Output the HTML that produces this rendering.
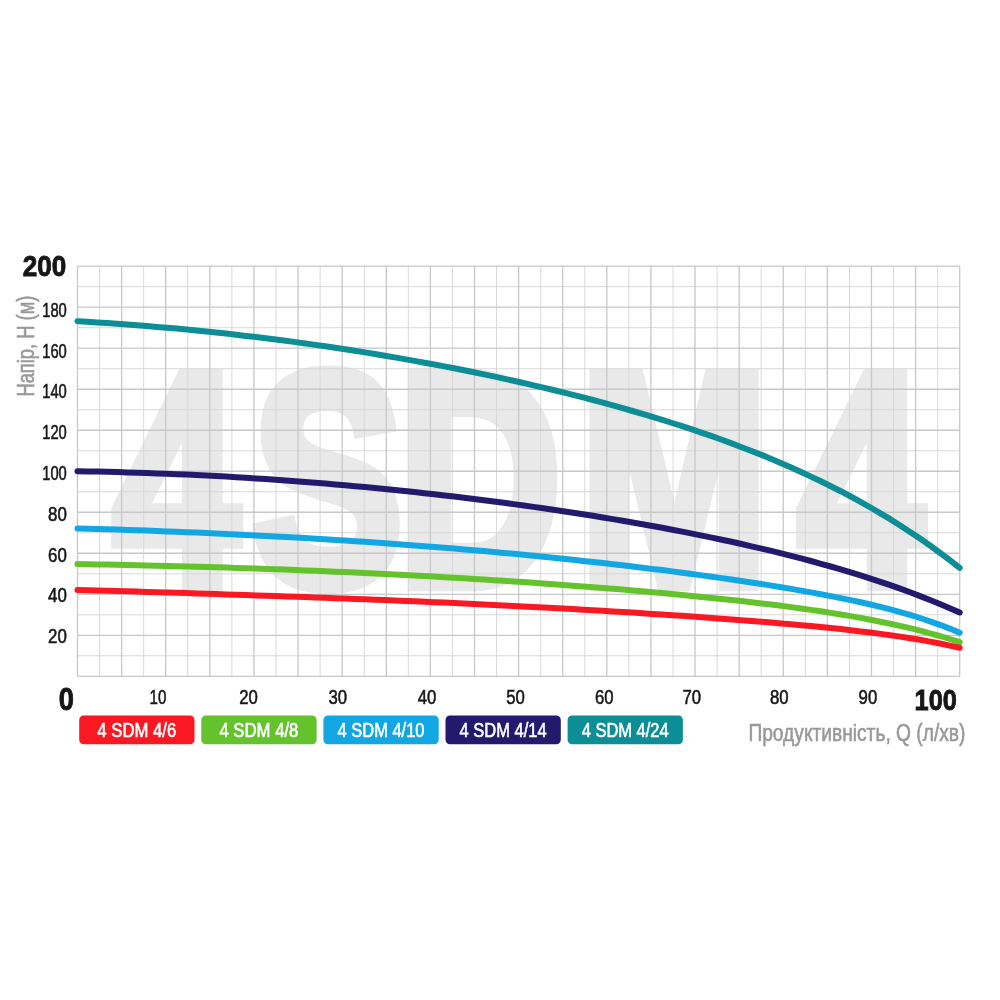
<!DOCTYPE html>
<html lang="uk"><head><meta charset="utf-8"><title>4SDM4</title>
<style>
html,body{margin:0;padding:0;background:#fff}
body{width:1000px;height:1000px;overflow:hidden}
svg{display:block}
text{font-family:"Liberation Sans",sans-serif}
.t{font-size:19.5px;fill:#161616;stroke:#161616;stroke-width:.55px}
.b{font-size:29.5px;font-weight:bold;fill:#161616;stroke:#161616;stroke-width:.9px}
.g{font-size:23px;fill:#989899;stroke:#989899;stroke-width:.55px}
.l{font-size:20px;fill:#fff;text-anchor:middle;stroke:#fff;stroke-width:.6px}
.wm{font-size:100px;font-weight:bold;fill:#e9e9e9;stroke:#e9e9e9;stroke-width:13px;vector-effect:non-scaling-stroke;stroke-linejoin:miter}
</style></head><body>
<svg width="1000" height="1000" viewBox="0 0 1000 1000">
<rect width="1000" height="1000" fill="#fff"/>
<text class="wm" transform="translate(0 583.80) scale(2.2611 3.0204)" x="50.10 111.56 176.04 256.44 352.94" y="0">4SDM4</text>
<path d="M99.56 266.20V676.30M143.67 266.20V676.30M187.78 266.20V676.30M231.89 266.20V676.30M276.00 266.20V676.30M320.11 266.20V676.30M364.22 266.20V676.30M408.32 266.20V676.30M452.44 266.20V676.30M496.54 266.20V676.30M540.65 266.20V676.30M584.77 266.20V676.30M628.88 266.20V676.30M672.99 266.20V676.30M717.10 266.20V676.30M761.21 266.20V676.30M805.32 266.20V676.30M849.42 266.20V676.30M893.54 266.20V676.30M937.65 266.20V676.30M77.50 286.70H959.70M77.50 327.71H959.70M77.50 368.73H959.70M77.50 409.74H959.70M77.50 450.75H959.70M77.50 491.75H959.70M77.50 532.76H959.70M77.50 573.77H959.70M77.50 614.78H959.70M77.50 655.79H959.70" stroke="#d7d7d7" stroke-width="0.95" fill="none"/>
<path d="M77.50 266.20V676.30M121.61 266.20V676.30M165.72 266.20V676.30M209.83 266.20V676.30M253.94 266.20V676.30M298.05 266.20V676.30M342.16 266.20V676.30M386.27 266.20V676.30M430.38 266.20V676.30M474.49 266.20V676.30M518.60 266.20V676.30M562.71 266.20V676.30M606.82 266.20V676.30M650.93 266.20V676.30M695.04 266.20V676.30M739.15 266.20V676.30M783.26 266.20V676.30M827.37 266.20V676.30M871.48 266.20V676.30M915.59 266.20V676.30M959.70 266.20V676.30M77.50 266.20H959.70M77.50 307.21H959.70M77.50 348.22H959.70M77.50 389.23H959.70M77.50 430.24H959.70M77.50 471.25H959.70M77.50 512.26H959.70M77.50 553.27H959.70M77.50 594.28H959.70M77.50 635.29H959.70M77.50 676.30H959.70" stroke="#c8c8c8" stroke-width="1.3" fill="none"/>
<path d="M77.5 321.2 L87.4 321.8 L97.3 322.4 L107.2 323.1 L117.1 323.8 L127.1 324.5 L137.0 325.2 L146.9 326.0 L156.8 326.9 L166.7 327.7 L176.6 328.6 L186.5 329.5 L196.4 330.5 L206.4 331.5 L216.3 332.6 L226.2 333.6 L236.1 334.7 L246.0 335.9 L255.9 337.1 L265.8 338.3 L275.7 339.5 L285.7 340.8 L295.6 342.1 L305.5 343.5 L315.4 344.9 L325.3 346.3 L335.2 347.8 L345.1 349.3 L355.0 350.8 L365.0 352.4 L374.9 354.0 L384.8 355.7 L394.7 357.4 L404.6 359.1 L414.5 360.9 L424.4 362.7 L434.3 364.5 L444.3 366.4 L454.2 368.3 L464.1 370.3 L474.0 372.3 L483.9 374.4 L493.8 376.4 L503.7 378.6 L513.6 380.8 L523.6 383.0 L533.5 385.3 L543.4 387.6 L553.3 390.0 L563.2 392.4 L573.1 394.9 L583.0 397.4 L592.9 400.0 L602.9 402.6 L612.8 405.4 L622.7 408.1 L632.6 411.0 L642.5 413.9 L652.4 416.8 L662.3 419.9 L672.2 423.0 L682.2 426.2 L692.1 429.4 L702.0 432.8 L711.9 436.2 L721.8 439.8 L731.7 443.4 L741.6 447.2 L751.5 451.0 L761.5 454.9 L771.4 459.0 L781.3 463.2 L791.2 467.5 L801.1 472.0 L811.0 476.6 L820.9 481.3 L830.8 486.2 L840.8 491.2 L850.7 496.5 L860.6 501.9 L870.5 507.5 L880.4 513.3 L890.3 519.2 L900.2 525.5 L910.1 531.9 L920.1 538.6 L930.0 545.5 L939.9 552.7 L949.8 560.2 L959.7 567.9" stroke="#0d8d96" stroke-width="6" fill="none" stroke-linecap="round" stroke-linejoin="round"/>
<path d="M77.5 471.2 L87.4 471.4 L97.3 471.6 L107.2 471.8 L117.1 472.1 L127.1 472.4 L137.0 472.7 L146.9 473.0 L156.8 473.4 L166.7 473.8 L176.6 474.2 L186.5 474.6 L196.4 475.1 L206.4 475.6 L216.3 476.1 L226.2 476.6 L236.1 477.2 L246.0 477.8 L255.9 478.5 L265.8 479.1 L275.7 479.8 L285.7 480.5 L295.6 481.2 L305.5 482.0 L315.4 482.8 L325.3 483.6 L335.2 484.4 L345.1 485.3 L355.0 486.2 L365.0 487.1 L374.9 488.0 L384.8 489.0 L394.7 490.0 L404.6 491.0 L414.5 492.1 L424.4 493.2 L434.3 494.3 L444.3 495.4 L454.2 496.6 L464.1 497.8 L474.0 499.0 L483.9 500.2 L493.8 501.5 L503.7 502.8 L513.6 504.1 L523.6 505.5 L533.5 506.9 L543.4 508.3 L553.3 509.7 L563.2 511.2 L573.1 512.7 L583.0 514.3 L592.9 515.8 L602.9 517.5 L612.8 519.1 L622.7 520.8 L632.6 522.5 L642.5 524.2 L652.4 526.0 L662.3 527.8 L672.2 529.7 L682.2 531.6 L692.1 533.6 L702.0 535.6 L711.9 537.6 L721.8 539.7 L731.7 541.8 L741.6 544.0 L751.5 546.3 L761.5 548.6 L771.4 550.9 L781.3 553.4 L791.2 555.9 L801.1 558.4 L811.0 561.0 L820.9 563.8 L830.8 566.5 L840.8 569.4 L850.7 572.4 L860.6 575.4 L870.5 578.6 L880.4 581.9 L890.3 585.2 L900.2 588.7 L910.1 592.3 L920.1 596.1 L930.0 600.0 L939.9 604.0 L949.8 608.2 L959.7 612.5" stroke="#231a6e" stroke-width="6" fill="none" stroke-linecap="round" stroke-linejoin="round"/>
<path d="M77.5 528.4 L87.4 528.7 L97.3 529.0 L107.2 529.3 L117.1 529.6 L127.1 529.9 L137.0 530.3 L146.9 530.6 L156.8 531.0 L166.7 531.4 L176.6 531.8 L186.5 532.2 L196.4 532.6 L206.4 533.0 L216.3 533.5 L226.2 533.9 L236.1 534.4 L246.0 534.9 L255.9 535.4 L265.8 535.9 L275.7 536.4 L285.7 537.0 L295.6 537.5 L305.5 538.1 L315.4 538.7 L325.3 539.3 L335.2 539.9 L345.1 540.5 L355.0 541.2 L365.0 541.8 L374.9 542.5 L384.8 543.2 L394.7 543.9 L404.6 544.7 L414.5 545.4 L424.4 546.2 L434.3 546.9 L444.3 547.7 L454.2 548.6 L464.1 549.4 L474.0 550.2 L483.9 551.1 L493.8 552.0 L503.7 552.9 L513.6 553.8 L523.6 554.8 L533.5 555.8 L543.4 556.7 L553.3 557.7 L563.2 558.8 L573.1 559.8 L583.0 560.9 L592.9 562.0 L602.9 563.1 L612.8 564.2 L622.7 565.3 L632.6 566.5 L642.5 567.7 L652.4 568.9 L662.3 570.1 L672.2 571.4 L682.2 572.7 L692.1 574.0 L702.0 575.4 L711.9 576.7 L721.8 578.1 L731.7 579.5 L741.6 581.0 L751.5 582.5 L761.5 584.0 L771.4 585.6 L781.3 587.2 L791.2 588.9 L801.1 590.6 L811.0 592.4 L820.9 594.2 L830.8 596.1 L840.8 598.1 L850.7 600.1 L860.6 602.3 L870.5 604.5 L880.4 606.9 L890.3 609.4 L900.2 612.1 L910.1 614.9 L920.1 618.0 L930.0 621.3 L939.9 624.8 L949.8 628.6 L959.7 632.7" stroke="#12a7e3" stroke-width="6" fill="none" stroke-linecap="round" stroke-linejoin="round"/>
<path d="M77.5 564.1 L87.4 564.3 L97.3 564.4 L107.2 564.6 L117.1 564.8 L127.1 565.0 L137.0 565.2 L146.9 565.4 L156.8 565.7 L166.7 565.9 L176.6 566.2 L186.5 566.4 L196.4 566.7 L206.4 567.0 L216.3 567.3 L226.2 567.6 L236.1 567.9 L246.0 568.2 L255.9 568.6 L265.8 568.9 L275.7 569.3 L285.7 569.6 L295.6 570.0 L305.5 570.4 L315.4 570.8 L325.3 571.3 L335.2 571.7 L345.1 572.1 L355.0 572.6 L365.0 573.0 L374.9 573.5 L384.8 574.0 L394.7 574.5 L404.6 575.0 L414.5 575.5 L424.4 576.1 L434.3 576.6 L444.3 577.2 L454.2 577.8 L464.1 578.3 L474.0 578.9 L483.9 579.6 L493.8 580.2 L503.7 580.8 L513.6 581.5 L523.6 582.1 L533.5 582.8 L543.4 583.5 L553.3 584.2 L563.2 585.0 L573.1 585.7 L583.0 586.4 L592.9 587.2 L602.9 588.0 L612.8 588.8 L622.7 589.6 L632.6 590.4 L642.5 591.3 L652.4 592.2 L662.3 593.1 L672.2 594.0 L682.2 594.9 L692.1 595.9 L702.0 596.9 L711.9 597.9 L721.8 598.9 L731.7 600.0 L741.6 601.1 L751.5 602.2 L761.5 603.4 L771.4 604.6 L781.3 605.8 L791.2 607.1 L801.1 608.5 L811.0 609.9 L820.9 611.3 L830.8 612.9 L840.8 614.5 L850.7 616.1 L860.6 617.9 L870.5 619.7 L880.4 621.7 L890.3 623.7 L900.2 625.9 L910.1 628.2 L920.1 630.7 L930.0 633.3 L939.9 636.0 L949.8 639.0 L959.7 642.1" stroke="#64c22d" stroke-width="6" fill="none" stroke-linecap="round" stroke-linejoin="round"/>
<path d="M77.5 589.9 L87.4 590.2 L97.3 590.5 L107.2 590.7 L117.1 591.0 L127.1 591.3 L137.0 591.6 L146.9 591.9 L156.8 592.2 L166.7 592.5 L176.6 592.8 L186.5 593.1 L196.4 593.4 L206.4 593.7 L216.3 594.1 L226.2 594.4 L236.1 594.7 L246.0 595.0 L255.9 595.4 L265.8 595.7 L275.7 596.0 L285.7 596.4 L295.6 596.7 L305.5 597.1 L315.4 597.4 L325.3 597.8 L335.2 598.2 L345.1 598.5 L355.0 598.9 L365.0 599.3 L374.9 599.7 L384.8 600.1 L394.7 600.5 L404.6 600.9 L414.5 601.3 L424.4 601.8 L434.3 602.2 L444.3 602.6 L454.2 603.1 L464.1 603.6 L474.0 604.0 L483.9 604.5 L493.8 605.0 L503.7 605.5 L513.6 605.9 L523.6 606.5 L533.5 607.0 L543.4 607.5 L553.3 608.0 L563.2 608.6 L573.1 609.1 L583.0 609.7 L592.9 610.2 L602.9 610.8 L612.8 611.4 L622.7 612.0 L632.6 612.6 L642.5 613.2 L652.4 613.9 L662.3 614.5 L672.2 615.2 L682.2 615.8 L692.1 616.5 L702.0 617.2 L711.9 617.9 L721.8 618.7 L731.7 619.4 L741.6 620.2 L751.5 621.0 L761.5 621.8 L771.4 622.6 L781.3 623.4 L791.2 624.3 L801.1 625.2 L811.0 626.1 L820.9 627.1 L830.8 628.1 L840.8 629.1 L850.7 630.2 L860.6 631.4 L870.5 632.6 L880.4 633.9 L890.3 635.2 L900.2 636.6 L910.1 638.2 L920.1 639.8 L930.0 641.6 L939.9 643.5 L949.8 645.6 L959.7 647.8" stroke="#fa1923" stroke-width="6" fill="none" stroke-linecap="round" stroke-linejoin="round"/>
<text class="b" x="22.8" y="276.2" textLength="43.5" lengthAdjust="spacingAndGlyphs">200</text>
<text class="t" x="42.2" y="316.8" textLength="24.6" lengthAdjust="spacingAndGlyphs">180</text>
<text class="t" x="42.2" y="357.6" textLength="24.6" lengthAdjust="spacingAndGlyphs">160</text>
<text class="t" x="42.2" y="398.4" textLength="24.6" lengthAdjust="spacingAndGlyphs">140</text>
<text class="t" x="42.2" y="439.1" textLength="24.6" lengthAdjust="spacingAndGlyphs">120</text>
<text class="t" x="42.2" y="479.9" textLength="24.6" lengthAdjust="spacingAndGlyphs">100</text>
<text class="t" x="48.0" y="520.7" textLength="18.8" lengthAdjust="spacingAndGlyphs">80</text>
<text class="t" x="48.0" y="561.5" textLength="18.8" lengthAdjust="spacingAndGlyphs">60</text>
<text class="t" x="48.0" y="602.3" textLength="18.8" lengthAdjust="spacingAndGlyphs">40</text>
<text class="t" x="48.0" y="643.0" textLength="18.8" lengthAdjust="spacingAndGlyphs">20</text>
<text class="b" style="font-size:31.5px" x="58.8" y="710" textLength="15.2" lengthAdjust="spacingAndGlyphs">0</text>
<text class="t" x="149.6" y="704" textLength="16.8" lengthAdjust="spacingAndGlyphs">10</text>
<text class="t" x="239.2" y="704" textLength="18.6" lengthAdjust="spacingAndGlyphs">20</text>
<text class="t" x="328.4" y="704" textLength="18.6" lengthAdjust="spacingAndGlyphs">30</text>
<text class="t" x="417.7" y="704" textLength="18.6" lengthAdjust="spacingAndGlyphs">40</text>
<text class="t" x="506.2" y="704" textLength="18.6" lengthAdjust="spacingAndGlyphs">50</text>
<text class="t" x="595.0" y="704" textLength="18.6" lengthAdjust="spacingAndGlyphs">60</text>
<text class="t" x="682.5" y="704" textLength="18.6" lengthAdjust="spacingAndGlyphs">70</text>
<text class="t" x="770.0" y="704" textLength="18.6" lengthAdjust="spacingAndGlyphs">80</text>
<text class="t" x="858.6" y="704" textLength="18.6" lengthAdjust="spacingAndGlyphs">90</text>
<text class="b" x="914.6" y="709.7" textLength="42.3" lengthAdjust="spacingAndGlyphs">100</text>
<text class="g" x="748.4" y="741.3" textLength="217" lengthAdjust="spacingAndGlyphs">Продуктивність, Q (л/хв)</text>
<text class="g" transform="translate(33.9 396.6) rotate(-90)" x="0" y="0" textLength="101" lengthAdjust="spacingAndGlyphs">Напір, H (м)</text>
<rect x="79.2" y="715.4" width="115.3" height="28.8" rx="4.5" fill="#fa1923"/><text class="l" x="136.8" y="736.8" textLength="79" lengthAdjust="spacingAndGlyphs">4 SDM 4/6</text>
<rect x="201.3" y="715.4" width="115.3" height="28.8" rx="4.5" fill="#64c22d"/><text class="l" x="258.9" y="736.8" textLength="79" lengthAdjust="spacingAndGlyphs">4 SDM 4/8</text>
<rect x="323.4" y="715.4" width="115.3" height="28.8" rx="4.5" fill="#12a7e3"/><text class="l" x="381.0" y="736.8" textLength="87" lengthAdjust="spacingAndGlyphs">4 SDM 4/10</text>
<rect x="445.5" y="715.4" width="115.3" height="28.8" rx="4.5" fill="#231a6e"/><text class="l" x="503.1" y="736.8" textLength="87" lengthAdjust="spacingAndGlyphs">4 SDM 4/14</text>
<rect x="567.6" y="715.4" width="115.3" height="28.8" rx="4.5" fill="#0d8d96"/><text class="l" x="625.2" y="736.8" textLength="87" lengthAdjust="spacingAndGlyphs">4 SDM 4/24</text>
</svg>
</body></html>
